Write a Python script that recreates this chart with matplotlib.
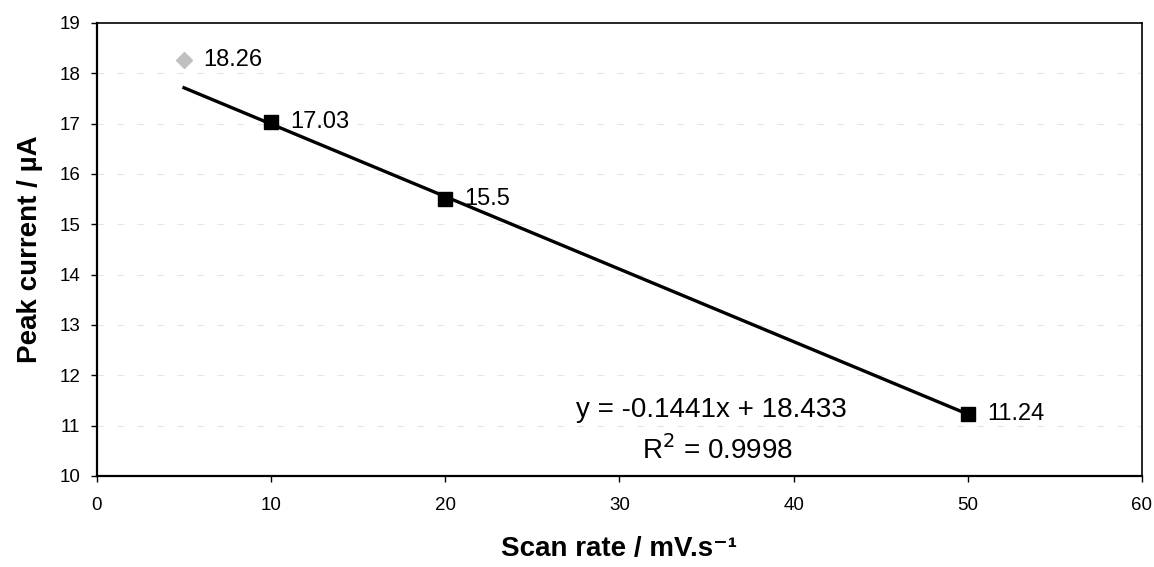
import matplotlib.pyplot as plt
import numpy as np

plt.rcParams['font.family'] = ['Liberation Sans', 'DejaVu Sans']

# scan rate (mV/s) and peak current (uA)
scan_rate = [10, 20, 50]
peak_current = [17.03, 15.5, 11.24]
# point left out of the linear fit
outlier_rate = [5]
outlier_current = [18.26]

slope = -0.1441
intercept = 18.433
r_squared = 0.9998

fig = plt.figure(figsize=(11.54, 5.67), dpi=100)
ax = fig.add_axes([0.084, 0.1605, 0.9056, 0.799])

# faint horizontal grid
for yv in range(11, 19):
    ax.axhline(yv, color='#e6e6e6', lw=0.8, ls=(0, (6, 12)), zorder=0)

fit_x = np.array([5, 50])
ax.plot(fit_x, slope * fit_x + intercept, color='black', lw=2.4, zorder=2)

ax.plot(scan_rate, peak_current, ls='none', marker='s', ms=10,
        color='black', zorder=3)
ax.plot(outlier_rate, outlier_current, ls='none', marker='D', ms=8,
        color='#c0c0c0', zorder=3)

for x, y in zip(scan_rate + outlier_rate, peak_current + outlier_current):
    ax.annotate(f"{y:g}", (x, y), xytext=(14, 0), textcoords='offset points',
                va='center', ha='left', fontsize=17)

ax.text(35.3, 11.31, f"y = {slope}x + {intercept}", ha='center', va='center',
        fontsize=20)
ax.text(35.6, 10.52, f"R$^2$ = {r_squared}", ha='center', va='center',
        fontsize=20)

ax.set_xlim(0, 60)
ax.set_ylim(10, 19)
ax.set_xticks(range(0, 61, 10))
ax.set_yticks(range(10, 20))
ax.tick_params(axis='both', labelsize=13.5, length=4, width=1)
ax.tick_params(axis='x', pad=11)
ax.tick_params(axis='y', pad=8)

for side in ['left', 'bottom']:
    ax.spines[side].set_linewidth(1.6)
for side in ['top', 'right']:
    ax.spines[side].set_linewidth(1.2)

ax.set_xlabel("Scan rate / mV.s\u207b\u00b9", fontsize=20, fontweight='bold',
              labelpad=16)
ax.set_ylabel("Peak current / \u00b5A", fontsize=20, fontweight='bold',
              labelpad=12)

fig.savefig("out.png", dpi=100)
